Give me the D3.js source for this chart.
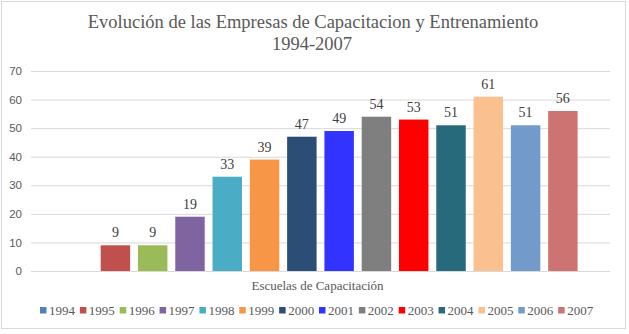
<!DOCTYPE html>
<html>
<head>
<meta charset="utf-8">
<script src="https://cdn.jsdelivr.net/npm/d3@7"></script>
<style>
  body { margin: 0; background: #fff; }
  svg { display: block; }
</style>
</head>
<body>
<div id="chart"></div>
<script>
// data
var category = "Escuelas de Capacitación";
var years = ["1994", "1995", "1996", "1997", "1998", "1999", "2000",
             "2001", "2002", "2003", "2004", "2005", "2006", "2007"];
var values = [null, 9, 9, 19, 33, 39, 47, 49, 54, 53, 51, 61, 51, 56];
var colors = ["#4f81bd", "#c0504d", "#9bbb59", "#8064a2", "#4bacc6", "#f79646", "#2c4d75",
              "#3333ff", "#7f7f7f", "#ff0000", "#276a7c", "#fac090", "#729aca", "#cd7371"];
var yTicks = [0, 10, 20, 30, 40, 50, 60, 70];

var W = 629, H = 334;
var margin = {top: 71, right: 19, bottom: 63, left: 31},
    width = W - margin.left - margin.right,
    height = H - margin.top - margin.bottom;

var data = years.map(function(y, i) { return {year: y, value: values[i], color: colors[i]}; });

var svg = d3.select("#chart")
  .append("svg")
    .attr("width", W)
    .attr("height", H);

// chart frame
svg.append("rect")
  .attr("x", 1.5).attr("y", 1.5)
  .attr("width", 624).attr("height", 327)
  .attr("fill", "#fff")
  .attr("stroke", "#d9d9d9");

// title
var title = svg.append("text")
  .attr("text-anchor", "middle")
  .style("font-family", "'Liberation Serif', 'Times New Roman', serif")
  .style("font-size", "18.5px")
  .attr("fill", "#595959");
title.append("tspan").attr("x", 313).attr("y", 28)
  .text("Evolución de las Empresas de Capacitacion y Entrenamiento");
title.append("tspan").attr("x", 312).attr("y", 50).text("1994-2007");

var g = svg.append("g")
  .attr("transform", "translate(" + margin.left + "," + margin.top + ")");

// scales
var y = d3.scaleLinear().domain([0, 70]).range([height, 0]);

var x0 = d3.scaleBand()
  .domain([category])
  .range([0, width])
  .paddingOuter(0.063);

var x1 = d3.scaleBand()
  .domain(years)
  .range([0, x0.bandwidth()])
  .paddingInner(0.21)
  .paddingOuter(0);

// gridlines + y labels
var yAxis = g.append("g")
  .call(d3.axisLeft(y).tickValues(yTicks).tickSize(-width).tickPadding(9))
yAxis.select(".domain").remove();
yAxis.selectAll(".tick line")
  .attr("stroke", "#d9d9d9");
yAxis.selectAll(".tick text")
  .attr("fill", "#595959")
  .style("font-family", "'Liberation Sans', Arial, sans-serif")
  .style("font-size", "11.5px");

// bars
var grp = g.append("g")
  .attr("transform", "translate(" + x0(category) + ",0)");

grp.selectAll("rect")
  .data(data.filter(function(d) { return d.value != null; }))
  .enter()
  .append("rect")
    .attr("x", function(d) { return x1(d.year); })
    .attr("y", function(d) { return y(d.value); })
    .attr("width", x1.bandwidth())
    .attr("height", function(d) { return height - y(d.value); })
    .attr("fill", function(d) { return d.color; });

// value labels
grp.selectAll("text.lbl")
  .data(data.filter(function(d) { return d.value != null; }))
  .enter()
  .append("text")
    .attr("class", "lbl")
    .attr("x", function(d) { return x1(d.year) + x1.bandwidth() / 2; })
    .attr("y", function(d) { return y(d.value) - 8; })
    .attr("text-anchor", "middle")
    .style("font-family", "'Liberation Serif', 'Times New Roman', serif")
    .style("font-size", "14px")
    .attr("fill", "#404040")
    .text(function(d) { return d.value; });

// category label
g.append("text")
  .attr("x", x0(category) + x0.bandwidth() / 2 - 3)
  .attr("y", height + 19)
  .attr("text-anchor", "middle")
  .style("font-family", "'Liberation Serif', 'Times New Roman', serif")
  .style("font-size", "13px")
  .attr("fill", "#595959")
  .text(category);

// legend
var legendX = d3.scaleBand().domain(years).range([40, 598]);
var legend = svg.append("g").selectAll("g")
  .data(data)
  .enter()
  .append("g")
    .attr("transform", function(d) { return "translate(" + legendX(d.year) + ",307)"; });
legend.append("rect")
  .attr("width", 6.5).attr("height", 6.5)
  .attr("fill", function(d) { return d.color; });
legend.append("text")
  .attr("x", 9)
  .attr("y", 7.5)
  .style("font-family", "'Liberation Serif', 'Times New Roman', serif")
  .style("font-size", "13px")
  .attr("fill", "#595959")
  .text(function(d) { return d.year; });
</script>
</body>
</html>
